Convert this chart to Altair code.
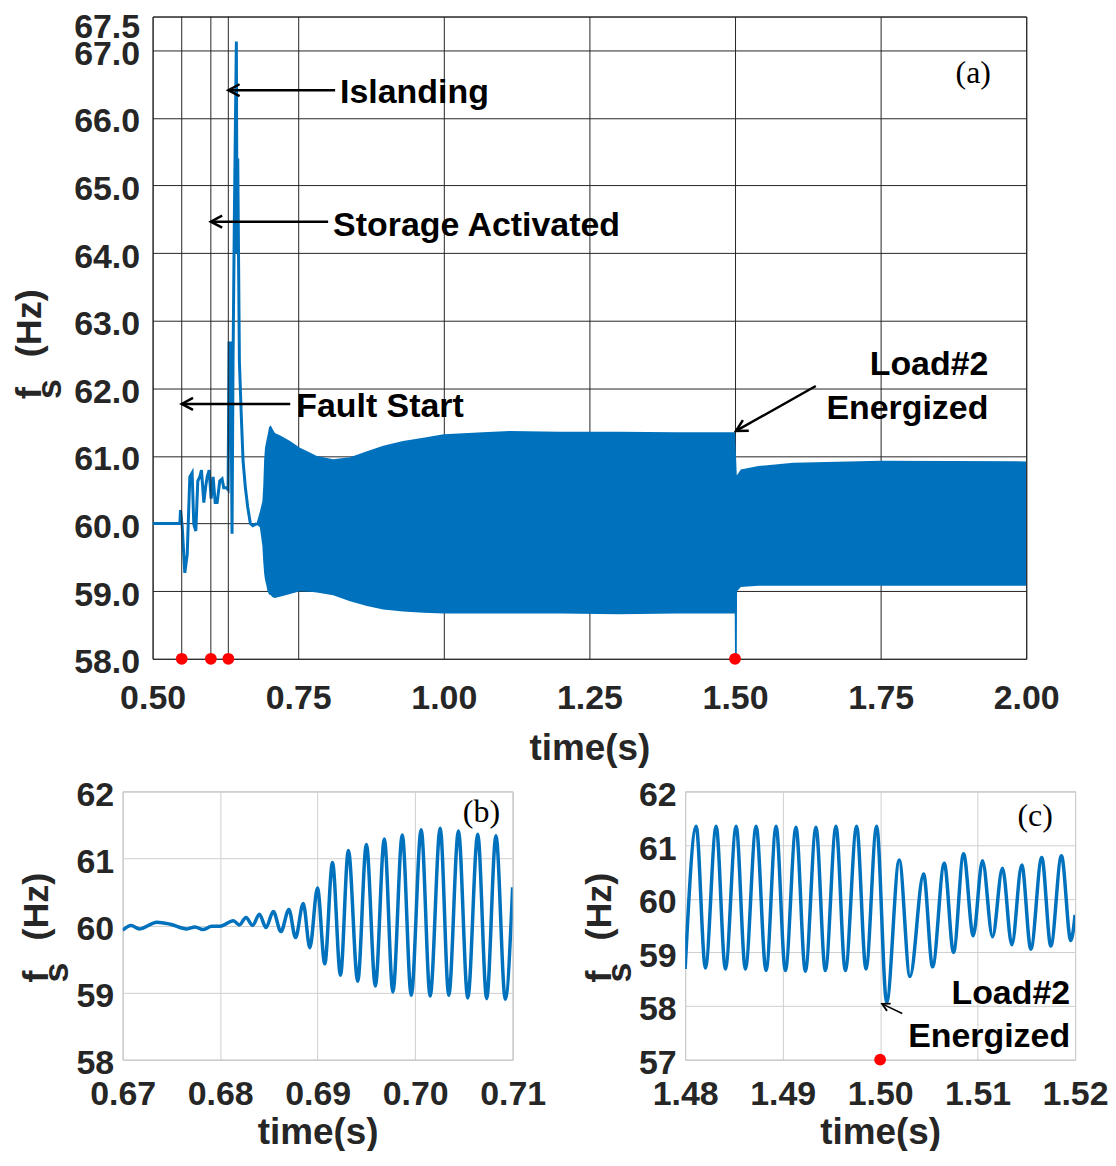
import altair as alt
import pandas as pd

BLUE = "#0072BD"
SANS = "Liberation Sans"
SERIF = "Liberation Serif"
INK = "#262626"

# ---------------- panel (a): full record ----------------
a_t = [0.500, 0.5468, 0.5479, 0.5508, 0.5553, 0.5594, 0.5639, 0.5679, 0.5707, 0.5742,
       0.5776, 0.5810, 0.5839, 0.5879, 0.5913, 0.5937, 0.5971, 0.6005, 0.6039, 0.6074,
       0.6108, 0.6153, 0.6193, 0.6221, 0.6267, 0.6296, 0.6313, 0.6340, 0.6364, 0.6381,
       0.6404, 0.6438, 0.6450, 0.6462, 0.6490, 0.6524, 0.6553, 0.6592, 0.6632, 0.6678,
       0.6720, 0.6790]
a_v = [60.00, 60.00, 60.20, 59.96, 59.27, 59.54, 60.69, 60.75, 59.99, 59.89,
       60.63, 60.69, 60.79, 60.31, 60.56, 60.69, 60.79, 60.37, 60.69, 60.31,
       60.31, 60.63, 60.66, 60.53, 60.53, 60.50, 62.67, 62.67, 59.85, 62.40,
       64.56, 67.13, 64.00, 65.40, 62.40, 61.57, 60.93, 60.54, 60.25, 60.00,
       59.97, 60.00]

# oscillation band (upper / lower envelope)
band_t = [0.6790, 0.6840, 0.6885, 0.6900, 0.6915, 0.6930, 0.6950, 0.6970, 0.7000, 0.7030,
          0.7060, 0.7100, 0.7200, 0.7360, 0.7530, 0.7700, 0.7820, 0.8100, 0.8390, 0.8680,
          0.8960, 0.9300, 0.9650, 1.0000, 1.0670, 1.1130, 1.2000, 1.3000, 1.4000, 1.4995,
          1.5000, 1.5030, 1.5035, 1.5100, 1.5400, 1.6000, 1.7500, 2.0000]
band_hi = [60.02, 60.17, 60.33, 60.56, 60.94, 61.12, 61.21, 61.29, 61.43, 61.45,
           61.40, 61.34, 61.30, 61.22, 61.12, 61.05, 61.00, 60.95, 60.98, 61.07,
           61.15, 61.22, 61.27, 61.32, 61.35, 61.37, 61.36, 61.36, 61.35, 61.35,
           61.35, 60.72, 60.72, 60.80, 60.85, 60.90, 60.93, 60.92]
band_lo = [59.98, 59.95, 59.67, 59.43, 59.26, 59.17, 59.10, 59.01, 58.95, 58.94,
           58.91, 58.90, 58.92, 58.96, 59.00, 58.99, 58.98, 58.94, 58.85, 58.78,
           58.73, 58.70, 58.68, 58.67, 58.67, 58.67, 58.67, 58.66, 58.67, 58.67,
           58.00, 58.00, 59.00, 59.06, 59.08, 59.08, 59.08, 59.08]

a_xticks = [0.50, 0.75, 1.00, 1.25, 1.50, 1.75, 2.00]
a_yticks = [58, 59, 60, 61, 62, 63, 64, 65, 66, 67, 67.5]
event_t = [0.55, 0.60, 0.63]
dot_t = [0.55, 0.60, 0.63, 1.50]
dot_v = [58.0, 58.0, 58.0, 58.0]

# arrows: tail -> tip
arr_t0 = [0.7363, 0.8014, 0.8134, 1.6387]
arr_v0 = [61.77, 64.465, 66.41, 62.035]
arr_t1 = [0.55, 0.60, 0.63, 1.5017]
arr_v1 = [61.77, 64.465, 66.41, 61.37]
arr_ang = [0, 0, 0, 330.6]

lab_left_text = ["Fault Start", "Storage Activated", "Islanding"]
lab_left_t = [0.7466, 0.8099, 0.8219]
lab_left_v = [61.726, 64.406, 66.365]
lab_right_text = ["Load#2", "Energized"]
lab_right_t = [1.935, 1.935]
lab_right_v = [62.34, 61.70]
panel_a_tag = ["(a)"]
panel_a_tag_t = [1.909]
panel_a_tag_v = [66.66]

# ---------------- panel (b): zoom 0.67-0.71 s ----------------
b_t = [0.67000, 0.67085, 0.67174, 0.67351, 0.67488, 0.67658, 0.67743, 0.67822, 0.67914, 0.67999,
       0.68136, 0.68197, 0.68265, 0.68333, 0.68402, 0.68470, 0.68545, 0.68623, 0.68705, 0.68773,
       0.68852, 0.68920, 0.68998, 0.69073, 0.69152, 0.69234, 0.69315, 0.69411, 0.69500, 0.69592,
       0.69684, 0.69772, 0.69868, 0.69960, 0.70062, 0.70154, 0.70257, 0.70345, 0.70444, 0.70540,
       0.70642, 0.70734, 0.70829, 0.70925, 0.71000]
b_v = [59.93, 60.00, 59.95, 60.05, 60.02, 59.95, 59.98, 59.94, 59.99, 59.99,
       60.07, 60.01, 60.12, 60.00, 60.17, 59.97, 60.21, 59.91, 60.24, 59.82,
       60.33, 59.67, 60.56, 59.43, 60.94, 59.26, 61.12, 59.17, 61.21, 59.10,
       61.29, 59.01, 61.35, 58.96, 61.43, 58.95, 61.45, 58.96, 61.41, 58.92,
       61.36, 58.91, 61.34, 58.90, 60.57]
b_xticks = [0.67, 0.68, 0.69, 0.70, 0.71]
b_yticks = [58, 59, 60, 61, 62]
b_tag = ["(b)"]
b_tag_t = [0.7068]
b_tag_v = [61.69]

# ---------------- panel (c): zoom 1.48-1.52 s ----------------
c_t = [1.48000, 1.48113, 1.48208, 1.48318, 1.48413, 1.48523, 1.48618, 1.48728, 1.48830, 1.48933,
       1.49028, 1.49137, 1.49233, 1.49342, 1.49438, 1.49547, 1.49643, 1.49759, 1.49855, 1.49964,
       1.50067, 1.50196, 1.50306, 1.50446, 1.50538, 1.50658, 1.50753, 1.50856, 1.50955, 1.51050,
       1.51153, 1.51255, 1.51351, 1.51453, 1.51546, 1.51658, 1.51751, 1.51860, 1.51956, 1.52000]
c_v = [58.69, 61.35, 58.71, 61.35, 58.69, 61.35, 58.69, 61.35, 58.66, 61.35,
       58.66, 61.33, 58.65, 61.33, 58.66, 61.35, 58.66, 61.35, 58.69, 61.35,
       58.07, 60.72, 58.55, 60.46, 58.73, 60.66, 59.00, 60.84, 59.31, 60.71,
       59.29, 60.57, 59.14, 60.63, 59.06, 60.77, 59.12, 60.80, 59.22, 59.70]
c_xticks = [1.48, 1.49, 1.50, 1.51, 1.52]
c_yticks = [57, 58, 59, 60, 61, 62]
c_dot_t = [1.50]
c_dot_v = [57.0]
c_arr_t0 = [1.50227]
c_arr_v0 = [57.86]
c_arr_t1 = [1.5002]
c_arr_v1 = [58.04]
c_arr_ang = [26.6]
c_lab_text = ["Load#2", "Energized"]
c_lab_t = [1.51949, 1.51949]
c_lab_v = [58.228, 57.43]
c_tag = ["(c)"]
c_tag_t = [1.5159]
c_tag_v = [61.54]

ARROW_HEAD = "M 1.6 -0.85 L 0 0 L 1.6 0.85"
YTITLE = ["f\u00a0\u00a0\u00a0(Hz)", "\u00a0\u00a0s"]


def x_axis(values, grid_color, label_pad, title_y):
    return alt.Axis(values=values, format=".2f", title="time(s)", grid=True,
                    gridColor=grid_color, gridOpacity=1, gridWidth=1, ticks=False,
                    domain=False, labelFont=SANS, labelFontSize=34, labelFontWeight="bold",
                    labelColor=INK, labelPadding=label_pad, labelFlush=False,
                    labelOverlap=False, titleFont=SANS, titleFontSize=37,
                    titleFontWeight="bold", titleColor=INK, titleBaseline="alphabetic",
                    titleY=title_y)


def y_axis(values, fmt, grid_color, label_pad, label_offset, title_x, title_y):
    return alt.Axis(values=values, format=fmt, title=YTITLE, grid=True,
                    gridColor=grid_color, gridOpacity=1, gridWidth=1, ticks=False,
                    domain=False, labelFont=SANS, labelFontSize=34, labelFontWeight="bold",
                    labelColor=INK, labelPadding=label_pad, labelOffset=label_offset,
                    labelOverlap=False, titleFont=SANS, titleFontSize=36,
                    titleFontWeight="bold", titleColor=INK, titleAngle=270,
                    titleAlign="left", titleBaseline="bottom", titleLineHeight=20,
                    titleX=title_x, titleY=title_y)


# ---------- panel (a) ----------
ax_ax = x_axis(a_xticks, INK, 22.5, 101)
ay_ax = y_axis(a_yticks, ".1f", INK, 13,
               {"condition": {"test": "datum.value == 67.5", "value": 11}, "value": 4},
               -104, 383)
xs_a = alt.Scale(domain=[0.5, 2.0], nice=False, zero=False)
ys_a = alt.Scale(domain=[58, 67.5], nice=False, zero=False)


def XA(f):
    return alt.X(f, type="quantitative", scale=xs_a, axis=ax_ax)


def YA(f):
    return alt.Y(f, type="quantitative", scale=ys_a, axis=ay_ax)


df_ev = pd.DataFrame({"t": event_t})
df_line = pd.DataFrame({"t": a_t, "v": a_v})
df_band = pd.DataFrame({"t": band_t, "hi": band_hi, "lo": band_lo})
df_dots = pd.DataFrame({"t": dot_t, "v": dot_v})
df_arr = pd.DataFrame({"t0": arr_t0, "v0": arr_v0, "t1": arr_t1, "v1": arr_v1, "ang": arr_ang})
df_ll = pd.DataFrame({"t": lab_left_t, "v": lab_left_v, "s": lab_left_text})
df_lr = pd.DataFrame({"t": lab_right_t, "v": lab_right_v, "s": lab_right_text})
df_tag_a = pd.DataFrame({"t": panel_a_tag_t, "v": panel_a_tag_v, "s": panel_a_tag})

a_layers = [
    alt.Chart(df_line).mark_line(color=BLUE, strokeWidth=3, clip=True).encode(x=XA("t"), y=YA("v")),
    alt.Chart(df_ev).mark_rule(color=INK, strokeWidth=1).encode(x=XA("t")),
    alt.Chart(df_band).mark_area(color=BLUE, opacity=1, clip=True).encode(
        x=XA("t"), y=YA("hi"), y2="lo"),
    alt.Chart(df_dots).mark_circle(color="#ff0000", size=140, opacity=1).encode(x=XA("t"), y=YA("v")),
    alt.Chart(df_arr).mark_rule(color="black", strokeWidth=2.5).encode(
        x=XA("t0"), y=YA("v0"), x2="t1", y2="v1"),
    alt.Chart(df_arr).mark_point(shape=ARROW_HEAD, filled=False, size=200, strokeWidth=2.5,
                                 color="black", opacity=1).encode(
        x=XA("t1"), y=YA("v1"), angle=alt.Angle("ang:Q", scale=None)),
    alt.Chart(df_ll).mark_text(align="left", baseline="middle", font=SANS, fontSize=34,
                               fontWeight="bold", color="black").encode(
        x=XA("t"), y=YA("v"), text="s:N"),
    alt.Chart(df_lr).mark_text(align="right", baseline="middle", font=SANS, fontSize=34,
                               fontWeight="bold", color="black").encode(
        x=XA("t"), y=YA("v"), text="s:N"),
    alt.Chart(df_tag_a).mark_text(align="center", baseline="middle", font=SERIF, fontSize=32,
                                  color="black").encode(x=XA("t"), y=YA("v"), text="s:N"),
]
chart_a = alt.layer(*a_layers).properties(
    width=876, height=644, view=alt.ViewBackground(stroke=INK, strokeWidth=1))

# ---------- panels (b) and (c) ----------
LIGHT = "#cfcfcf"
FRAME = "#b0b0b0"


def small_panel(t, v, xticks, yticks, xdom, ydom, tag, tag_t, tag_v, extra):
    xs = alt.Scale(domain=xdom, nice=False, zero=False)
    ys = alt.Scale(domain=ydom, nice=False, zero=False)
    xax = x_axis(xticks, LIGHT, 17.5, 84)
    yax = y_axis(yticks, "d", LIGHT, 9, 4, -67, 191)

    def X(f):
        return alt.X(f, type="quantitative", scale=xs, axis=xax)

    def Y(f):
        return alt.Y(f, type="quantitative", scale=ys, axis=yax)

    layers = [
        alt.Chart(pd.DataFrame({"t": t, "v": v})).mark_line(
            color=BLUE, strokeWidth=3.5, interpolate="monotone", clip=True).encode(x=X("t"), y=Y("v")),
        alt.Chart(pd.DataFrame({"t": tag_t, "v": tag_v, "s": tag})).mark_text(
            align="center", baseline="middle", font=SERIF, fontSize=32, color="black").encode(
            x=X("t"), y=Y("v"), text="s:N"),
    ]
    layers += extra(X, Y)
    return alt.layer(*layers).properties(
        width=391, height=269, view=alt.ViewBackground(stroke=FRAME, strokeWidth=1))


def no_extra(X, Y):
    return []


def c_extra(X, Y):
    df_cd = pd.DataFrame({"t": c_dot_t, "v": c_dot_v})
    df_ca = pd.DataFrame({"t0": c_arr_t0, "v0": c_arr_v0, "t1": c_arr_t1, "v1": c_arr_v1,
                          "ang": c_arr_ang})
    df_cl = pd.DataFrame({"t": c_lab_t, "v": c_lab_v, "s": c_lab_text})
    return [
        alt.Chart(df_ca).mark_rule(color="black", strokeWidth=1.5).encode(
            x=X("t0"), y=Y("v0"), x2="t1", y2="v1"),
        alt.Chart(df_ca).mark_point(shape=ARROW_HEAD, filled=False, size=90, strokeWidth=1.8,
                                    color="black", opacity=1).encode(
            x=X("t1"), y=Y("v1"), angle=alt.Angle("ang:Q", scale=None)),
        alt.Chart(df_cl).mark_text(align="right", baseline="middle", font=SANS, fontSize=34,
                                   fontWeight="bold", color="black").encode(
            x=X("t"), y=Y("v"), text="s:N"),
        alt.Chart(df_cd).mark_circle(color="#ff0000", size=140, opacity=1).encode(x=X("t"), y=Y("v")),
    ]


chart_b = small_panel(b_t, b_v, b_xticks, b_yticks, [0.67, 0.71], [58, 62],
                      b_tag, b_tag_t, b_tag_v, no_extra)
chart_c = small_panel(c_t, c_v, c_xticks, c_yticks, [1.48, 1.52], [57, 62],
                      c_tag, c_tag_t, c_tag_v, c_extra)

spacer = alt.Chart(pd.DataFrame({"k": [0]})).mark_point(opacity=0).encode(
    x=alt.value(0), y=alt.value(0)).properties(
    width=30, height=644, view=alt.ViewBackground(stroke="transparent"))

top_row = alt.hconcat(spacer, chart_a, spacing=0, bounds="flush")
bottom_row = alt.hconcat(chart_b, chart_c, spacing=173, bounds="flush")

chart = alt.vconcat(top_row, bottom_row, spacing=10).properties(
    padding={"left": 3, "top": 0, "right": -1, "bottom": -2}, background="white")

chart.save("out.html", embed_options={"renderer": "svg", "actions": False})
